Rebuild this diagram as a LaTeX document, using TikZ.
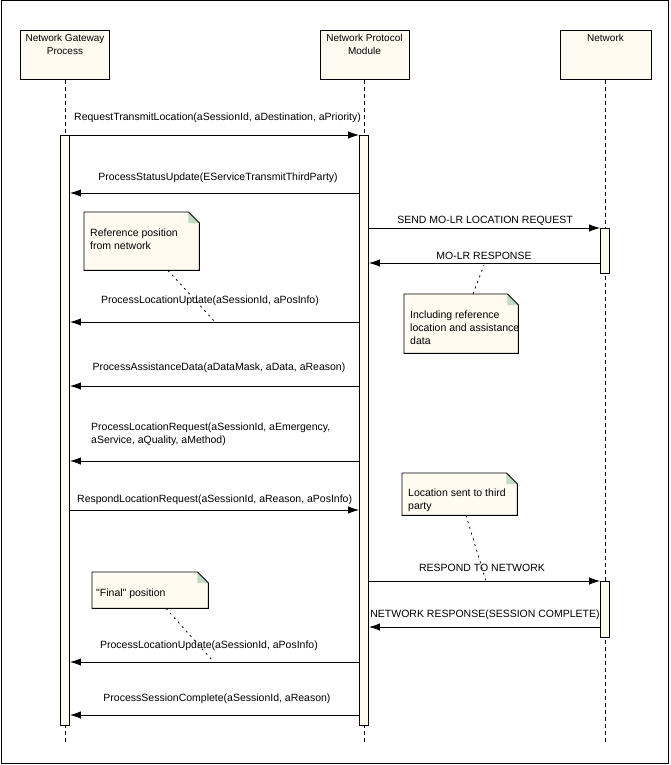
\documentclass[tikz,border=0pt]{standalone}
\usepackage{fontspec}
\setmainfont{Liberation Sans}
\usetikzlibrary{arrows.meta}
\definecolor{cream}{RGB}{255,251,240}
\definecolor{ear}{RGB}{192,220,192}
\tikzset{
  every node/.style={font=\fontsize{10.5}{13}\selectfont},
  headbox/.style={draw, fill=cream, minimum width=89pt, minimum height=49pt, inner sep=0pt, anchor=north, line width=0.9pt},
  headtext/.style={anchor=north, align=center, inner sep=0pt, yshift=-4pt, font=\fontsize{10}{13.5}\selectfont},
  life/.style={dash pattern=on 4pt off 3pt, line width=0.8pt},
  actbar/.style={draw, fill=cream, minimum width=9pt, inner sep=0pt, anchor=north, line width=0.9pt},
  msg/.style={line width=0.9pt, -{Latex[length=11pt,width=7.5pt]}},
  mlabel/.style={inner sep=0pt, anchor=center},
  noteshape/.style={inner sep=0pt, anchor=north west},
  notetext/.style={inner sep=0pt, anchor=north west, align=left},
  notelink/.style={line width=0.8pt, dash pattern=on 2pt off 4pt},
}
\newcommand{\notebody}[1]{%
  \fill[cream] (#1.north west) -- ([xshift=-11pt]#1.north east) -- ([yshift=-11pt]#1.north east) -- (#1.south east) -- (#1.south west) -- cycle;
  \fill[ear] ([xshift=-11pt]#1.north east) -- ([yshift=-11pt]#1.north east) -- ([xshift=-11pt,yshift=-11pt]#1.north east) -- cycle;
  \draw[line width=0.9pt] (#1.north west) -- ([xshift=-11pt]#1.north east) -- ([yshift=-11pt]#1.north east) -- (#1.south east) -- (#1.south west) -- cycle;
}
\begin{document}
\begin{tikzpicture}[x=1pt,y=-1pt]
\useasboundingbox (0,0) rectangle (670,765);
\draw[line width=1pt] (1,1) rectangle (668,763);

% heads
\node[headbox] (ngp) at (65,30) {};
\node[headtext] at (ngp.north) {Network Gateway\\Process};
\node[headbox] (npm) at (364.5,30) {};
\node[headtext] at (npm.north) {Network Protocol\\Module};
\node[headbox, minimum width=91pt] (net) at (605.5,30) {};
\node[headtext] at (net.north) {Network};

% lifelines
\coordinate (ngpend) at (65,743);
\coordinate (npmend) at (364.5,743);
\coordinate (netend) at (605.5,743);
\draw[life] (ngp.south) -- (ngpend);
\draw[life] (npm.south) -- (npmend);
\draw[life] (net.south) -- (netend);

% activation bars
\node[actbar, minimum height=590pt] (ngpA) at (65,135) {};
\node[actbar, minimum height=590pt] (npmA) at (364,135) {};
\node[actbar, minimum height=45pt] (netA1) at (605,228) {};
\node[actbar, minimum height=56pt] (netA2) at (605,581) {};

% messages
\draw[msg] (ngpA.east |- 0,135) -- (npmA.west |- 0,135);
\node[mlabel, anchor=west] at (74,118) {RequestTransmitLocation(aSessionId, aDestination, aPriority)};

\draw[msg] (npmA.west |- 0,193) -- (ngpA.east |- 0,193);
\node[mlabel] at (218,178) {ProcessStatusUpdate(EServiceTransmitThirdParty)};

\draw[msg] (npmA.east |- 0,228) -- (netA1.west |- 0,228);
\node[mlabel] at (485,221) {SEND MO-LR LOCATION REQUEST};

\draw[msg] (netA1.west |- 0,263) -- (npmA.east |- 0,263);
\node[mlabel] at (484,256) {MO-LR RESPONSE};

\draw[msg] (npmA.west |- 0,322) -- (ngpA.east |- 0,322);
\node[mlabel] at (210,301) {ProcessLocationUpdate(aSessionId, aPosInfo)};

\draw[msg] (npmA.west |- 0,386) -- (ngpA.east |- 0,386);
\node[mlabel] at (219,368) {ProcessAssistanceData(aDataMask, aData, aReason)};

\draw[msg] (npmA.west |- 0,461) -- (ngpA.east |- 0,461);
\node[notetext] at (91,423) {ProcessLocationRequest(aSessionId, aEmergency,\\aService, aQuality, aMethod)};

\draw[msg] (ngpA.east |- 0,510) -- (npmA.west |- 0,510);
\node[mlabel, anchor=west] at (77,500) {RespondLocationRequest(aSessionId, aReason, aPosInfo)};

\draw[msg] (npmA.east |- 0,581) -- (netA2.west |- 0,581);
\node[mlabel] at (482,568) {RESPOND TO NETWORK};

\draw[msg] (netA2.west |- 0,627) -- (npmA.east |- 0,627);
\node[mlabel] at (485,615) {NETWORK RESPONSE(SESSION COMPLETE)};

\draw[msg] (npmA.west |- 0,662) -- (ngpA.east |- 0,662);
\node[mlabel] at (209,646) {ProcessLocationUpdate(aSessionId, aPosInfo)};

\draw[msg] (npmA.west |- 0,715) -- (ngpA.east |- 0,715);
\node[mlabel] at (217,699) {ProcessSessionComplete(aSessionId, aReason)};

% notes
\node[noteshape, minimum width=115pt, minimum height=58pt] (n1) at (84,212) {};
\notebody{n1}
\node[notetext] at (90,229) {Reference position\\from network};
\coordinate (n1end) at (215,322);
\draw[notelink] (n1.south -| 168,0) -- (n1end);

\node[noteshape, minimum width=114pt, minimum height=59pt] (n2) at (404,294) {};
\notebody{n2}
\node[notetext] at (410,311) {Including reference\\location and assistance\\data};
\coordinate (n2end) at (484,265);
\draw[notelink] (n2.north -| 473,0) -- (n2end);

\node[noteshape, minimum width=115pt, minimum height=42pt] (n3) at (402,473) {};
\notebody{n3}
\node[notetext] at (408,489) {Location sent to third\\party};
\coordinate (n3end) at (486,581);
\draw[notelink] (n3.south -| 466,0) -- (n3end);

\node[noteshape, minimum width=116pt, minimum height=36pt] (n4) at (92,572) {};
\notebody{n4}
\node[notetext] at (96,589) {\textquotedbl Final\textquotedbl{} position};
\coordinate (n4end) at (212,660);
\draw[notelink] (n4.south -| 166,0) -- (n4end);
\end{tikzpicture}
\end{document}
